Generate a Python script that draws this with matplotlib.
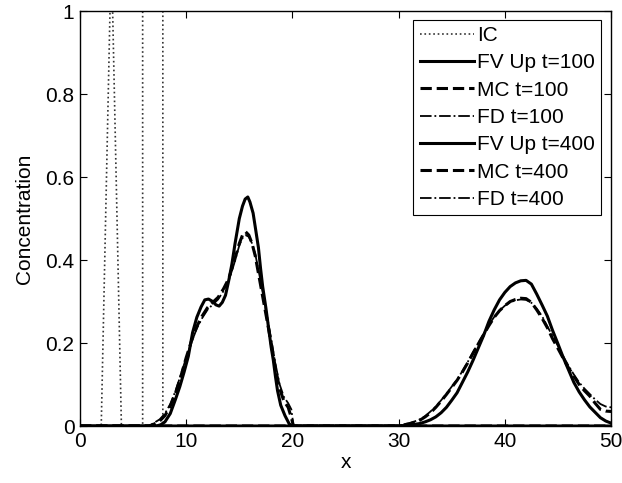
import matplotlib
matplotlib.use("Agg")
import matplotlib.pyplot as plt

# ── Data ────────────────────────────────────────────────────
ic_x = [0, 2.0, 2.95, 3.9, 5.9, 5.9, 7.8, 7.8, 50]
ic_c = [0, 0, 1.15, 0, 0, 1.0, 1.0, 0, 0]

fv100_x = [0, 7.2, 7.6, 8.0, 8.5, 9.0, 9.4, 9.8, 10.2, 10.6, 11.0, 11.4, 11.75,
           12.1, 12.5, 12.8, 13.1, 13.4, 13.7, 14.0, 14.3, 14.6, 15.0, 15.3, 15.55,
           15.8, 16.0, 16.3, 16.5, 16.8, 17.0, 17.2, 17.5, 17.7, 18.0, 18.2, 18.4,
           18.6, 18.9, 19.3, 19.7, 20.0, 50]
fv100_c = [0, 0, 0.003, 0.01, 0.03, 0.065, 0.095, 0.13, 0.168, 0.225, 0.262, 0.287,
           0.304, 0.306, 0.30, 0.292, 0.289, 0.298, 0.315, 0.35, 0.39, 0.44, 0.50,
           0.53, 0.547, 0.552, 0.54, 0.513, 0.48, 0.43, 0.38, 0.336, 0.285, 0.247,
           0.19, 0.159, 0.12, 0.085, 0.05, 0.025, 0.005, 0, 0]

t100_x = [0, 6.5, 7.0, 7.5, 8.0, 8.5, 9.0, 9.5, 10.0, 10.5, 11.0, 11.5, 12.0, 12.5,
          13.0, 13.5, 14.0, 14.5, 15.0, 15.3, 15.6, 15.9, 16.2, 16.5, 17.0, 17.5,
          18.0, 18.4, 18.8, 19.2, 19.6, 19.9, 20.1, 50]
mc100_c = [0, 0, 0.005, 0.012, 0.025, 0.048, 0.08, 0.12, 0.165, 0.205, 0.24, 0.265,
           0.285, 0.298, 0.31, 0.33, 0.355, 0.395, 0.44, 0.46, 0.468, 0.46, 0.44,
           0.41, 0.34, 0.27, 0.20, 0.14, 0.09, 0.06, 0.045, 0.02, 0, 0]
fd100_c = [0, 0, 0.008, 0.016, 0.03, 0.053, 0.085, 0.124, 0.165, 0.202, 0.235, 0.26,
           0.28, 0.293, 0.305, 0.325, 0.35, 0.39, 0.435, 0.453, 0.46, 0.456, 0.44,
           0.415, 0.35, 0.28, 0.21, 0.15, 0.10, 0.07, 0.055, 0.04, 0, 0]

t400_x = [0, 30, 30.5, 31, 31.5, 32, 32.5, 33, 33.5, 34, 34.5, 35, 35.5, 36, 36.5,
          37, 37.5, 38, 38.5, 39, 39.5, 40, 40.5, 41, 41.5, 42, 42.5, 43, 43.5, 44,
          44.5, 45, 45.5, 46, 46.5, 47, 47.5, 48, 48.5, 49, 49.5, 50]
fv400_c = [0, 0, 0.001, 0.002, 0.004, 0.006, 0.01, 0.015, 0.022, 0.032, 0.045, 0.062,
           0.08, 0.105, 0.13, 0.158, 0.188, 0.218, 0.252, 0.28, 0.304, 0.322, 0.336,
           0.345, 0.350, 0.351, 0.342, 0.318, 0.292, 0.265, 0.23, 0.198, 0.165,
           0.135, 0.105, 0.082, 0.063, 0.046, 0.033, 0.02, 0.012, 0.007]
mc400_c = [0, 0, 0.003, 0.005, 0.009, 0.014, 0.022, 0.032, 0.045, 0.06, 0.076, 0.093,
           0.11, 0.13, 0.152, 0.175, 0.198, 0.22, 0.242, 0.262, 0.278, 0.29, 0.30,
           0.305, 0.308, 0.307, 0.298, 0.28, 0.26, 0.237, 0.21, 0.187, 0.163, 0.14,
           0.12, 0.10, 0.085, 0.072, 0.055, 0.04, 0.036, 0.035]
fd400_c = [0, 0, 0.004, 0.007, 0.011, 0.016, 0.024, 0.035, 0.047, 0.062, 0.078, 0.095,
           0.112, 0.132, 0.154, 0.178, 0.20, 0.222, 0.244, 0.263, 0.278, 0.29, 0.298,
           0.303, 0.305, 0.304, 0.297, 0.283, 0.265, 0.24, 0.217, 0.193, 0.168,
           0.145, 0.124, 0.105, 0.09, 0.077, 0.064, 0.053, 0.047, 0.045]

x_ticks = [0, 10, 20, 30, 40, 50]
y_ticks = [0, 0.2, 0.4, 0.6, 0.8, 1]
y_tick_labels = ["0", "0.2", "0.4", "0.6", "0.8", "1"]

# ── Style ───────────────────────────────────────────────────
plt.rcParams["font.family"] = ["Liberation Sans", "DejaVu Sans"]
plt.rcParams["font.size"] = 15
plt.rcParams["lines.solid_joinstyle"] = "round"
plt.rcParams["lines.dash_joinstyle"] = "round"

fig = plt.figure(figsize=(6.22, 4.83), dpi=100)
ax = fig.add_axes([0.1286, 0.118, 0.8538, 0.859])

ax.plot(ic_x, ic_c, ":", color="#333333", linewidth=1.2, label="IC")
ax.plot(fv100_x, fv100_c, "-", color="black", linewidth=2.2, label="FV Up t=100")
ax.plot(t100_x, mc100_c, "--", color="black", linewidth=2.2, label="MC t=100")
ax.plot(t100_x, fd100_c, "-.", color="black", linewidth=1.3, label="FD t=100")
ax.plot(t400_x, fv400_c, "-", color="black", linewidth=2.2, label="FV Up t=400")
ax.plot(t400_x, mc400_c, "--", color="black", linewidth=2.2, label="MC t=400")
ax.plot(t400_x, fd400_c, "-.", color="black", linewidth=1.3, label="FD t=400")

ax.set_xlim(0, 50)
ax.set_ylim(0, 1)
ax.set_xticks(x_ticks)
ax.set_yticks(y_ticks)
ax.set_yticklabels(y_tick_labels)
ax.tick_params(direction="in", top=True, right=True, length=5, width=0.8, pad=4)
for s in ax.spines.values():
    s.set_linewidth(1.0)

ax.set_xlabel("x", labelpad=2)
ax.set_ylabel("Concentration", labelpad=8)

leg = ax.legend(loc="upper right", bbox_to_anchor=(0.981, 0.979), fancybox=False,
                edgecolor="black", framealpha=1, handlelength=2.6, handletextpad=0.15,
                labelspacing=0.4, borderpad=0.3, borderaxespad=0)
leg.get_frame().set_linewidth(0.8)

fig.savefig("out.png", dpi=100)
